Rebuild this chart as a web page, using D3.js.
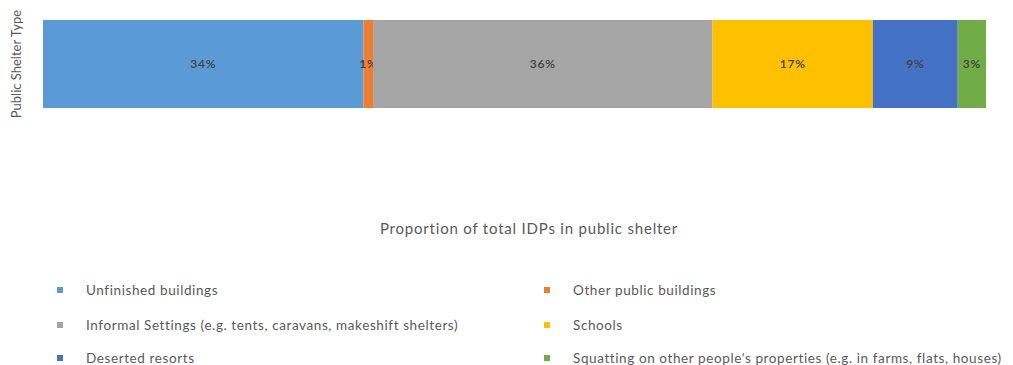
<!DOCTYPE html>
<html>
<head>
<meta charset="utf-8">
<script src="https://cdn.jsdelivr.net/npm/d3@7"></script>
<style>
  html, body { margin: 0; padding: 0; background: #fff; }
  svg { display: block; font-family: "Lato", "Open Sans", sans-serif; }
</style>
</head>
<body>
<svg id="chart" width="1013" height="365"></svg>
<script>
// Shelter categories and their share of IDPs in public shelter (%)
const categories = [
  "Unfinished buildings",
  "Other public buildings",
  "Informal Settings (e.g. tents, caravans, makeshift shelters)",
  "Schools",
  "Deserted resorts",
  "Squatting on other people's properties (e.g. in farms, flats, houses)"
];
const shares = [34, 1, 36, 17, 9, 3];
const colors = ["#5B9BD5", "#ED7D31", "#A5A5A5", "#FFC000", "#4472C4", "#70AD47"];
const rowLabel = ["Public Shelter"];
const xTitle = "Proportion of total IDPs in public shelter";
const yTitle = "Public Shelter Type";

const svg = d3.select("#chart");

// stacked layout
const row = {};
categories.forEach((c, i) => row[c] = shares[i]);
const stack = d3.stack().keys(categories)([row]);

const x = d3.scaleLinear().domain([0, d3.sum(shares)]).range([43, 986]);
const y = d3.scaleBand().domain(rowLabel).range([20, 108]).padding(0);

const seg = svg.append("g").selectAll("g")
  .data(stack)
  .join("g");

seg.append("rect")
  .attr("x", d => x(d[0][0]))
  .attr("y", y(rowLabel[0]))
  .attr("width", d => x(d[0][1]) - x(d[0][0]))
  .attr("height", y.bandwidth())
  .attr("fill", (d, i) => colors[i]);

seg.append("text")
  .attr("x", d => (x(d[0][0]) + x(d[0][1])) / 2)
  .attr("y", y(rowLabel[0]) + y.bandwidth() / 2)
  .attr("dy", "0.35em")
  .attr("text-anchor", "middle")
  .attr("font-size", 12)
  .attr("letter-spacing", 0.8)
  .attr("font-weight", 600)
  .attr("fill", "#404040")
  .text((d, i) => shares[i] + "%");

// axis titles
svg.append("text")
  .attr("transform", `translate(21, ${(20 + 108) / 2}) rotate(-90)`)
  .attr("text-anchor", "middle")
  .attr("font-size", 13)
  .attr("fill", "#595959")
  .text(yTitle);

svg.append("text")
  .attr("x", 529)
  .attr("y", 234)
  .attr("text-anchor", "middle")
  .attr("font-size", 15)
  .attr("letter-spacing", 0.8)
  .attr("fill", "#595959")
  .text(xTitle);

// legend, two columns
const legendCols = [57, 544];
const legendRows = [290, 325, 358];
const legend = svg.append("g").selectAll("g")
  .data(categories)
  .join("g")
  .attr("transform", (d, i) => `translate(${legendCols[i % 2]}, ${legendRows[Math.floor(i / 2)]})`);

legend.append("rect")
  .attr("x", 0).attr("y", -3)
  .attr("width", 6).attr("height", 6)
  .attr("fill", (d, i) => colors[i]);

legend.append("text")
  .attr("x", d => 29)
  .attr("dy", "0.35em")
  .attr("font-size", 13.5)
  .attr("letter-spacing", 0.6)
  .attr("fill", "#595959")
  .text(d => d);
</script>
</body>
</html>
